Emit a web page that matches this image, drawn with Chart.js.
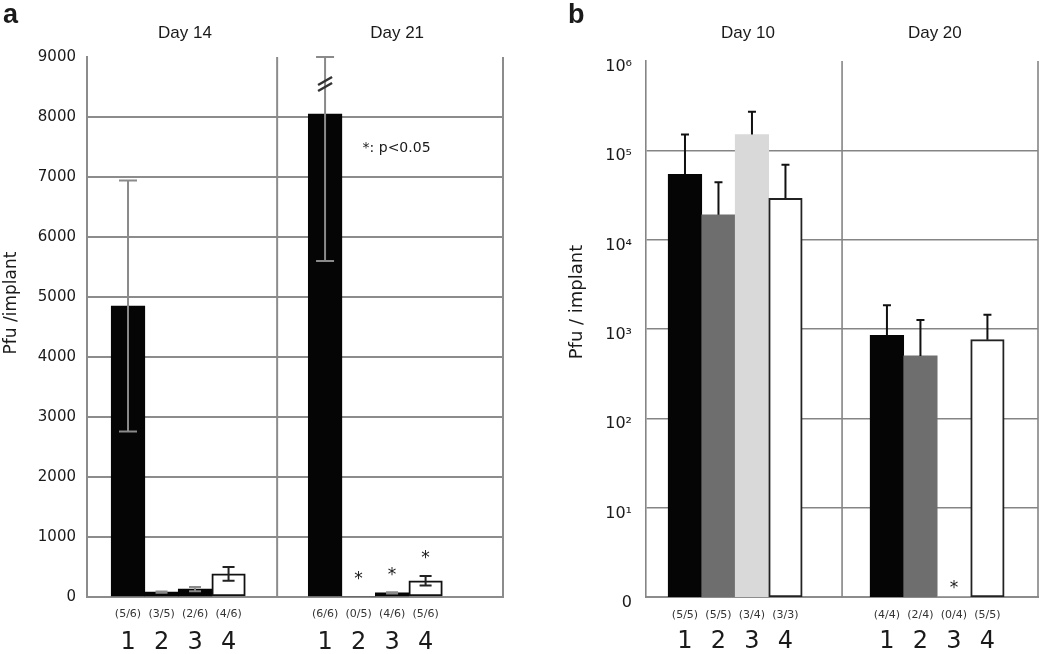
<!DOCTYPE html>
<html>
<head>
<meta charset="utf-8">
<script src="https://cdn.jsdelivr.net/npm/chart.js@4.4.1/dist/chart.umd.min.js"></script>
<style>
  html, body { margin: 0; padding: 0; background: #fff; }
  #wrap { position: relative; width: 1050px; height: 654px; overflow: hidden; }
  canvas { position: absolute; top: 0; }
</style>
</head>
<body>
<div id="wrap">
  <canvas id="panelA" width="525" height="654" style="left:0"></canvas>
  <canvas id="panelB" width="525" height="654" style="left:525px"></canvas>
</div>
<script>
// ---- data ----
const barLabels = ['1', '2', '3', '4'];

// panel a: Pfu / implant (linear), mean and SD
const day14Mean = [4850, 80, 130, 385];
const day14Sd = [2090, 10, 35, 115];
const day14Counts = ['(5/6)', '(3/5)', '(2/6)', '(4/6)'];
const day21Mean = [8050, 0, 70, 270];
const day21Sd = [2450, 0, 10, 80];
const day21Counts = ['(6/6)', '(0/5)', '(4/6)', '(5/6)'];
const day21Signif = [false, true, true, true];
const yTicksA = [0, 1000, 2000, 3000, 4000, 5000, 6000, 7000, 8000, 9000];

// panel b: Pfu / implant (log), mean and top of the error bar
const day10Mean = [54000, 19000, 150000, 29000];
const day10Upper = [150000, 44000, 270000, 69000];
const day10Counts = ['(5/5)', '(5/5)', '(3/4)', '(3/3)'];
const day20Mean = [850, 500, 0, 760];
const day20Upper = [1850, 1260, 0, 1440];
const day20Counts = ['(4/4)', '(2/4)', '(0/4)', '(5/5)'];
const day20Signif = [false, false, true, false];
const yTicksB = [1, 10, 100, 1000, 10000, 100000, 1000000];

// ---- layout (x in bar units, one unit = one bar width) ----
const layoutA = { xMin: -0.224, xMax: 12.19, groupStart: [1, 6.88], divider: 5.45, titleAt: [2.7, 9.03] };
const layoutB = { xMin: -0.164, xMax: 11.54, groupStart: [1, 7.03], divider: 5.69, titleAt: [2.88, 8.46] };

const GRID = '#8c8c8c';
const INK = '#1a1a1a';
const SUP = ['\u2070', '\u00b9', '\u00b2', '\u00b3', '\u2074', '\u2075', '\u2076'];

function positions(layout) {
  const out = [];
  layout.groupStart.forEach(s => barLabels.forEach((_, i) => out.push(s + i)));
  return out;
}

// error bars drawn from dataset.errLow / dataset.errHigh
const errorBars = {
  id: 'errorBars',
  afterDatasetsDraw(chart, args, o) {
    const ds = chart.data.datasets[0];
    const meta = chart.getDatasetMeta(0);
    const y = chart.scales.y;
    const ctx = chart.ctx;
    ctx.save();
    ctx.lineWidth = o.lineWidth;
    meta.data.forEach((bar, i) => {
      const lo = ds.errLow[i], hi = ds.errHigh[i];
      if (!(hi > lo)) return;
      const clipped = hi > y.max;
      const yHi = y.getPixelForValue(Math.min(hi, y.max));
      const yLo = y.getPixelForValue(lo);
      const half = ds.capWidth[i] / 2;
      ctx.strokeStyle = ds.errColor[i];
      ctx.beginPath();
      ctx.moveTo(bar.x, yLo); ctx.lineTo(bar.x, yHi);
      ctx.moveTo(bar.x - half, yHi); ctx.lineTo(bar.x + half, yHi);
      if (o.lowerCap) { ctx.moveTo(bar.x - half, yLo); ctx.lineTo(bar.x + half, yLo); }
      ctx.stroke();
      if (clipped) {
        const yb = yHi + o.breakGap;
        ctx.strokeStyle = '#333';
        ctx.lineWidth = 2.5;
        [-3, 3].forEach(k => {
          ctx.beginPath();
          ctx.moveTo(bar.x - 7, yb + k + 4); ctx.lineTo(bar.x + 7, yb + k - 4);
          ctx.stroke();
        });
        ctx.lineWidth = o.lineWidth;
      }
    });
    ctx.restore();
  }
};

// dividers, titles, counts, stars, axis title
const panelDecor = {
  id: 'panelDecor',
  beforeDatasetsDraw(chart, args, o) {
    const { ctx, chartArea: a, scales: { x } } = chart;
    ctx.save();
    ctx.strokeStyle = o.lineColor;
    ctx.lineWidth = o.lineWidth;
    [x.getPixelForValue(o.divider), a.right].forEach(px => {
      ctx.beginPath(); ctx.moveTo(px, a.top); ctx.lineTo(px, a.bottom); ctx.stroke();
    });
    ctx.restore();
  },
  afterDraw(chart, args, o) {
    const { ctx, scales: { x, y } } = chart;
    const ds = chart.data.datasets[0];
    const meta = chart.getDatasetMeta(0);
    ctx.save();
    ctx.fillStyle = INK;
    ctx.textBaseline = 'middle';
    ctx.textAlign = 'left';
    ctx.font = 'bold 27px "Liberation Sans", Arial, sans-serif';
    ctx.fillText(o.letter, o.letterX, 16);

    ctx.textAlign = 'center';
    ctx.font = '17px "Liberation Sans", Arial, sans-serif';
    o.titles.forEach((t, i) => ctx.fillText(t, x.getPixelForValue(o.titleAt[i]), 33));

    ctx.fillStyle = '#333';
    ctx.font = '11px "DejaVu Sans", sans-serif';
    o.counts.forEach((c, i) => ctx.fillText(c, meta.data[i].x, o.countY));

    ctx.fillStyle = INK;
    ctx.font = '17px "DejaVu Sans", sans-serif';
    o.signif.forEach((s, i) => {
      if (!s) return;
      const top = Math.max(ds.data[i].y || 0, ds.errHigh[i] || 0);
      ctx.fillText('*', meta.data[i].x, y.getPixelForValue(top) - o.starGap + 5);
    });

    if (o.note) {
      ctx.textAlign = 'left';
      ctx.font = '14px "DejaVu Sans", sans-serif';
      ctx.fillText(o.note.text, x.getPixelForValue(o.note.x), y.getPixelForValue(o.note.y));
    }

    ctx.translate(o.yTitleX, o.yTitleY);
    ctx.rotate(-Math.PI / 2);
    ctx.textAlign = 'center';
    ctx.font = o.yTitleSize + 'px "DejaVu Sans", sans-serif';
    ctx.fillText(o.yTitle, 0, 0);
    ctx.restore();
  }
};

function xScale(layout, pos, padding) {
  return {
    type: 'linear', min: layout.xMin, max: layout.xMax, offset: false,
    afterBuildTicks: s => { s.ticks = pos.map(v => ({ value: v })); },
    afterFit: s => { s.height = 57; },
    grid: { display: false, drawTicks: false },
    border: { display: true, color: GRID, width: 2 },
    ticks: {
      autoSkip: false, maxRotation: 0, padding: padding, color: INK,
      font: { family: 'DejaVu Sans', size: 24 },
      callback: (v, i) => barLabels[i % barLabels.length]
    }
  };
}

// ---- panel a ----
const posA = positions(layoutA);
const meansA = day14Mean.concat(day21Mean);
const sdA = day14Sd.concat(day21Sd);
const fillA = ['#050505', '#050505', '#050505', '#ffffff'];

new Chart(document.getElementById('panelA'), {
  type: 'bar',
  data: {
    datasets: [{
      data: meansA.map((v, i) => ({ x: posA[i], y: v })),
      errLow: meansA.map((v, i) => v - sdA[i]),
      errHigh: meansA.map((v, i) => v + sdA[i]),
      errColor: meansA.map((v, i) => i % 4 === 3 ? '#222' : '#8a8a8a'),
      capWidth: meansA.map((v, i) => i % 4 === 0 ? 18 : 12),
      backgroundColor: meansA.map((v, i) => fillA[i % 4]),
      borderColor: '#111',
      borderWidth: meansA.map((v, i) => i % 4 === 3 ? 2 : 0),
      borderSkipped: false,
      barPercentage: 1, categoryPercentage: 1
    }]
  },
  options: {
    responsive: false, animation: false, events: [],
    layout: { padding: { left: 0, right: 22, top: 57, bottom: 0 } },
    plugins: {
      legend: { display: false }, tooltip: { enabled: false },
      errorBars: { lineWidth: 2, lowerCap: true, breakGap: 27 },
      panelDecor: {
        letter: 'a', letterX: 3, titles: ['Day 14', 'Day 21'], titleAt: layoutA.titleAt,
        divider: layoutA.divider, lineColor: GRID, lineWidth: 2,
        counts: day14Counts.concat(day21Counts), countY: 614,
        signif: [false, false, false, false].concat(day21Signif), starGap: 22,
        note: { text: '*: p<0.05', x: 8.0, y: 7480 },
        yTitle: 'Pfu /implant', yTitleSize: 17, yTitleX: 12, yTitleY: 303
      }
    },
    scales: {
      x: xScale(layoutA, posA, 31),
      y: {
        type: 'linear', min: 0, max: 9000,
        afterBuildTicks: s => { s.ticks = yTicksA.map(v => ({ value: v })); },
        afterFit: s => { s.width = 87; },
        grid: { color: c => c.tick && c.tick.value === 9000 ? 'rgba(0,0,0,0)' : GRID, lineWidth: 2, drawTicks: false },
        border: { display: true, color: GRID, width: 2 },
        ticks: {
          padding: 11, color: INK, font: { family: 'DejaVu Sans', size: 15 },
          callback: v => String(v)
        }
      }
    }
  },
  plugins: [panelDecor, errorBars]
});

// ---- panel b ----
const posB = positions(layoutB);
const meansB = day10Mean.concat(day20Mean);
const upperB = day10Upper.concat(day20Upper);
const fillB = ['#050505', '#6e6e6e', '#d9d9d9', '#ffffff'];

new Chart(document.getElementById('panelB'), {
  type: 'bar',
  data: {
    datasets: [{
      data: meansB.map((v, i) => ({ x: posB[i], y: v })),
      errLow: meansB,
      errHigh: upperB,
      errColor: meansB.map(() => '#111'),
      capWidth: meansB.map(() => 8),
      backgroundColor: meansB.map((v, i) => fillB[i % 4]),
      borderColor: '#222',
      borderWidth: meansB.map((v, i) => i % 4 === 3 ? 2 : 0),
      borderSkipped: false,
      barPercentage: 1, categoryPercentage: 1
    }]
  },
  options: {
    responsive: false, animation: false, events: [],
    layout: { padding: { left: 0, right: 12, top: 61, bottom: 0 } },
    plugins: {
      legend: { display: false }, tooltip: { enabled: false },
      errorBars: { lineWidth: 2, lowerCap: false, breakGap: 0 },
      panelDecor: {
        letter: 'b', letterX: 43, titles: ['Day 10', 'Day 20'], titleAt: layoutB.titleAt,
        divider: layoutB.divider, lineColor: '#858585', lineWidth: 1.6,
        counts: day10Counts.concat(day20Counts), countY: 615,
        signif: [false, false, false, false].concat(day20Signif), starGap: 13,
        yTitle: 'Pfu / implant', yTitleSize: 18, yTitleX: 52, yTitleY: 302
      }
    },
    scales: {
      x: xScale(layoutB, posB, 30),
      y: {
        type: 'logarithmic', min: 1, max: 1000000, z: 1,
        afterBuildTicks: s => { s.ticks = yTicksB.map(v => ({ value: v })); },
        afterFit: s => { s.width = 121; },
        grid: { color: c => c.tick && c.tick.value === 1000000 ? 'rgba(0,0,0,0)' : '#858585', lineWidth: 1.6, drawTicks: false },
        border: { display: true, color: '#858585', width: 1.6 },
        ticks: {
          padding: 14, labelOffset: 6, color: INK, font: { family: 'DejaVu Sans', size: 16 },
          callback: v => v === 1 ? '0' : '10' + SUP[Math.round(Math.log10(v))]
        }
      }
    }
  },
  plugins: [panelDecor, errorBars]
});
</script>
</body>
</html>
